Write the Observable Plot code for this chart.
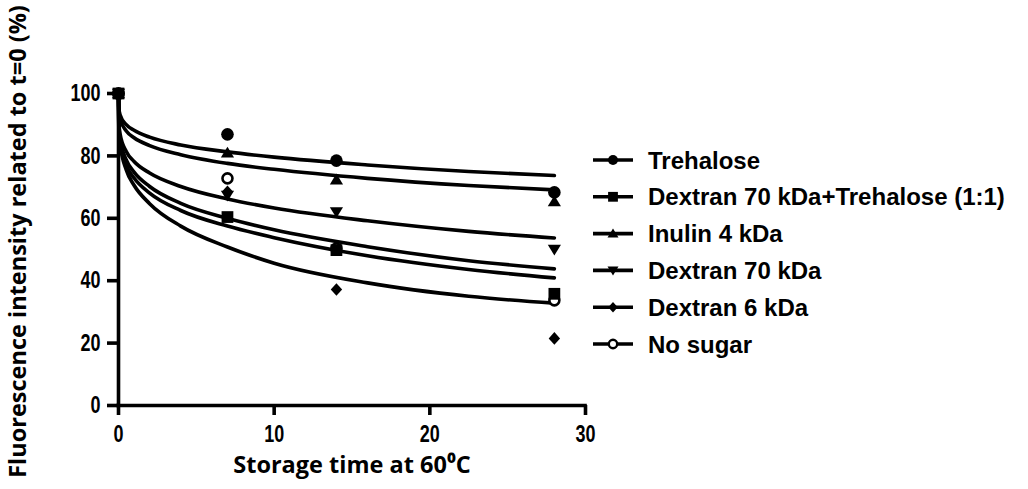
<!DOCTYPE html>
<html>
<head>
<meta charset="utf-8">
<script src="https://cdn.jsdelivr.net/npm/d3@7"></script>
<script src="https://cdn.jsdelivr.net/npm/@observablehq/plot@0.6"></script>
<style>
  html, body { margin: 0; padding: 0; background: #fff; }
  #chart svg { display: block; }
</style>
</head>
<body>
<div id="chart"></div>
<script>
// ---- data ----
const seriesNames = ["Trehalose", "Dextran 70 kDa+Trehalose (1:1)", "Inulin 4 kDa", "Dextran 70 kDa", "Dextran 6 kDa", "No sugar"];
const times = [0, 7, 14, 28];
const trehalose = [100, 86.9, 78.5, 68.3];
const dex70Tre = [100, 60.4, 49.8, 35.8];
const inulin = [100, 81.0, 72.4, 65.4];
const dex70 = [100, 67.3, 62.0, 50.0];
const dex6 = [100, 68.5, 37.2, 21.5];
const noSugar = [100, 72.8, 50.3, 33.7];

// fitted curves
const fitTimes = [0, 0.02, 0.1, 0.5, 1, 2, 4, 7, 10, 16, 22.5, 28];
const fitTrehalose = [100, 95.4, 93.2, 90.0, 88.2, 86.0, 83.5, 81.3, 79.6, 77.1, 75.0, 73.7];
const fitInulin    = [100, 94.3, 91.7, 88.0, 85.8, 83.3, 80.4, 77.6, 75.7, 72.8, 70.5, 69.1];
const fitDex70     = [100, 91.0, 87.1, 81.4, 78.2, 74.5, 70.2, 66.2, 63.3, 59.2, 55.8, 53.7];
const fitDex70Tre  = [100, 90.2, 85.5, 78.7, 74.8, 70.2, 64.8, 60.0, 56.3, 50.9, 46.4, 43.8];
const fitNoSugar   = [100, 89.2, 84.2, 77.0, 72.9, 68.1, 62.5, 57.5, 53.8, 48.0, 43.6, 40.9];
const fitDex6      = [100, 89.6, 84.0, 75.5, 70.6, 64.7, 57.5, 50.8, 45.6, 39.3, 35.0, 32.8];

const xTicks = [0, 10, 20, 30];
const yTicks = [0, 20, 40, 60, 80, 100];

// ---- symbols ----
const R = s => Math.sqrt(s / Math.PI);
const symCircle = {draw(c, s) { const r = R(s); c.moveTo(r, 0); c.arc(0, 0, r, 0, 2 * Math.PI); c.closePath(); }};
const symSquare = {draw(c, s) { const h = R(s) * 0.98; c.rect(-h, -h, 2 * h, 2 * h); }};
const symTriUp = {draw(c, s) { const r = R(s); c.moveTo(0, -r); c.lineTo(r * 1.1, r * 0.8); c.lineTo(-r * 1.1, r * 0.8); c.closePath(); }};
const symTriDown = {draw(c, s) { const r = R(s); c.moveTo(0, r); c.lineTo(r * 1.1, -r * 0.8); c.lineTo(-r * 1.1, -r * 0.8); c.closePath(); }};
const symDiamond = {draw(c, s) { const r = R(s); c.moveTo(0, -r * 1.05); c.lineTo(r * 0.95, 0); c.lineTo(0, r * 1.05); c.lineTo(-r * 0.95, 0); c.closePath(); }};

const series = [
  {name: seriesNames[0], vals: trehalose, fit: fitTrehalose, sym: symCircle, open: false},
  {name: seriesNames[1], vals: dex70Tre, fit: fitDex70Tre, sym: symSquare, open: false},
  {name: seriesNames[2], vals: inulin, fit: fitInulin, sym: symTriUp, open: false},
  {name: seriesNames[3], vals: dex70, fit: fitDex70, sym: symTriDown, open: false},
  {name: seriesNames[4], vals: dex6, fit: fitDex6, sym: symDiamond, open: false},
  {name: seriesNames[5], vals: noSugar, fit: fitNoSugar, sym: symCircle, open: true}
];

const tickFont = "'Liberation Sans', Arial, sans-serif";
const titleFont = "'Open Sans', 'Noto Sans', sans-serif";

const marks = [];
for (const s of series) {
  const rows = fitTimes.map((t, i) => ({t, v: s.fit[i]}));
  marks.push(Plot.line(rows, {x: "t", y: "v", stroke: "black", strokeWidth: 3.6, curve: "monotone-x"}));
}
marks.push(Plot.ruleY([0], {stroke: "black", strokeWidth: 3.6, strokeLinecap: "square"}));
marks.push(Plot.ruleX([0], {stroke: "black", strokeWidth: 3.6, strokeLinecap: "square"}));
const drawOrder = [5, 4, 2, 3, 1, 0];
for (const k of drawOrder) {
  const s = series[k];
  const rows = times.map((t, i) => ({t, v: s.vals[i]}));
  if (s.open) {
    marks.push(Plot.dot(rows, {x: "t", y: "v", symbol: s.sym, r: 5, fill: "white", stroke: "black", strokeWidth: 2.6}));
  } else {
    marks.push(Plot.dot(rows, {x: "t", y: "v", symbol: s.sym, r: k === 0 ? 6.3 : 6, fill: "black", stroke: "none"}));
  }
}
marks.push(Plot.axisX({ticks: xTicks, tickSize: 10, tickPadding: 9, strokeWidth: 3.6, fontSize: 24, fontWeight: "bold", fontFamily: tickFont, label: null}));
marks.push(Plot.axisY({ticks: yTicks, tickSize: 11, tickPadding: 7, strokeWidth: 3.6, fontSize: 24, fontWeight: "bold", fontFamily: tickFont, label: null}));
marks.push(Plot.text(["Storage time at 60\u2070C"], {frameAnchor: "bottom", textAnchor: "middle", dy: 67, fontSize: 23.5, fontWeight: "bold", fontFamily: titleFont, fill: "black"}));
marks.push(Plot.text(["Fluorescence intensity related to t=0 (%)"], {frameAnchor: "left", textAnchor: "middle", rotate: -90, dx: -100, dy: -8, fontSize: 23.5, fontWeight: "bold", fontFamily: titleFont, fill: "black"}));

const chart = Plot.plot({
  width: 1028,
  height: 489,
  marginLeft: 118,
  marginRight: 443,
  marginTop: 93,
  marginBottom: 84,
  x: {domain: [0, 30]},
  y: {domain: [0, 100]},
  style: {background: "white", color: "black", overflow: "visible"},
  marks
});
document.getElementById("chart").appendChild(chart);

// condensed look for tick labels (narrow digits as in the reference)
d3.select(chart).selectAll('g[aria-label$="tick label"] text').each(function () {
  const n = this.textContent.length;
  this.setAttribute("textLength", n * 10);
  this.setAttribute("lengthAdjust", "spacingAndGlyphs");
});

// ---- legend ----
const svg = d3.select(chart);
const lg = svg.append("g").attr("class", "legend").attr("text-anchor", "start");
series.forEach((s, i) => {
  const y = 160 + i * 36.8;
  const g = lg.append("g").attr("transform", `translate(0,${y})`);
  g.append("line").attr("x1", 593).attr("x2", 633).attr("y1", 0).attr("y2", 0)
    .attr("stroke", "black").attr("stroke-width", 3.6);
  const p = d3.path();
  const rr = s.open ? 4.2 : 5;
  s.sym.draw(p, Math.PI * rr * rr);
  g.append("path").attr("d", p.toString()).attr("transform", "translate(613,0)")
    .attr("fill", s.open ? "white" : "black")
    .attr("stroke", s.open ? "black" : "none")
    .attr("stroke-width", s.open ? 2.4 : 0);
  g.append("text").attr("x", 648).attr("y", 0).attr("dy", "0.36em")
    .attr("text-anchor", "start")
    .attr("font-family", "'Liberation Sans', Arial, sans-serif")
    .attr("font-weight", "bold").attr("font-size", 24)
    .attr("fill", "black")
    .text(s.name);
});
</script>
</body>
</html>
